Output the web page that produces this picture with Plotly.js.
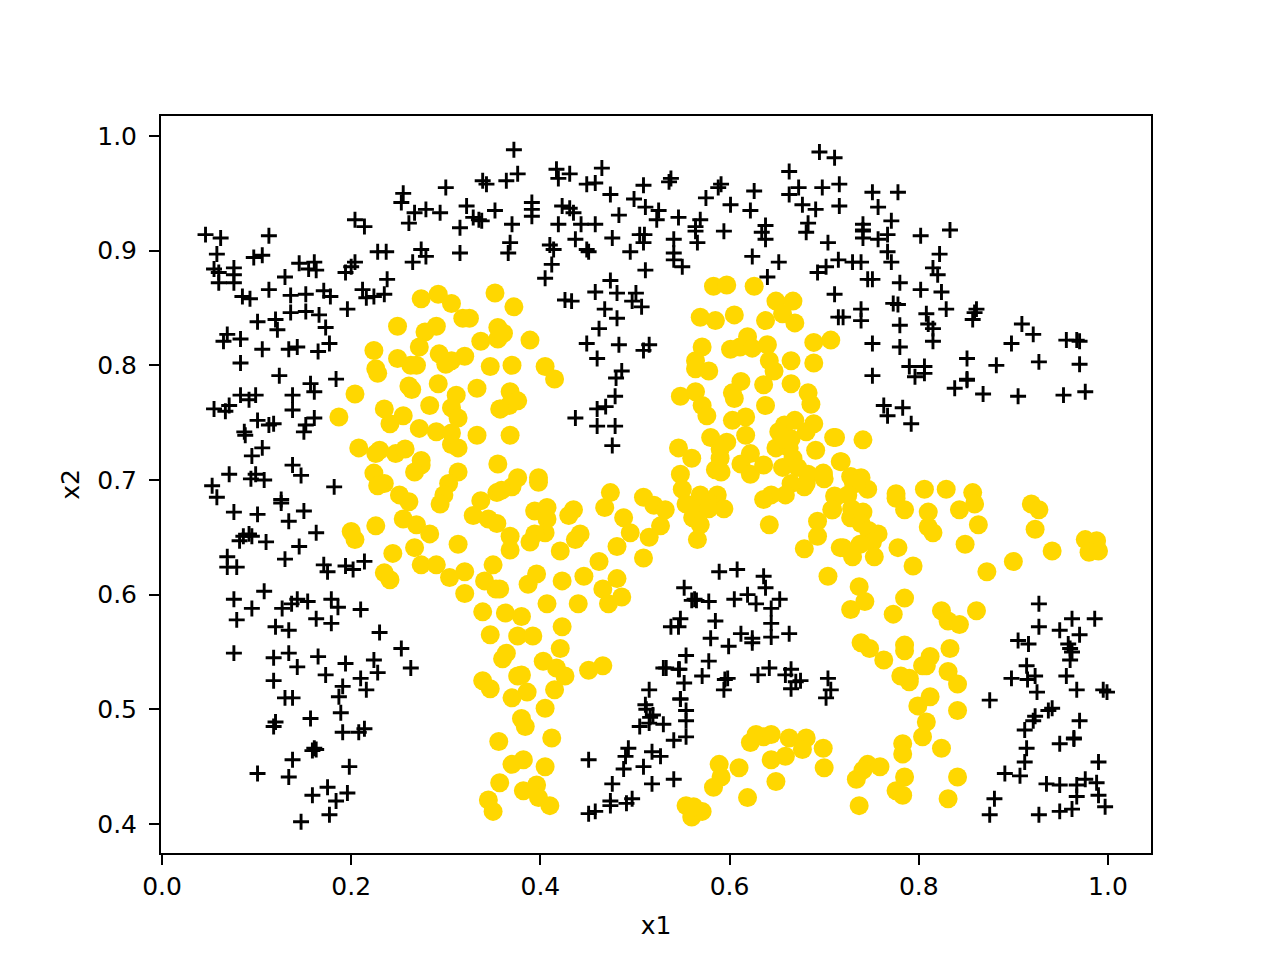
<!DOCTYPE html>
<html>
<head>
<meta charset="utf-8">
<script src="https://cdn.plot.ly/plotly-3.0.1.min.js"></script>
<style>html,body{margin:0;padding:0;background:#fff}#chart{width:1280px;height:960px}</style>
</head>
<body>
<div id="chart"></div>
<script>
const plusUpperLeft = [[.046,.914],[.062,.911],[.113,.913],[.058,.897],[.097,.894],[.106,.896],[.055,.884],[.060,.881],[.076,.885],[.076,.879],[.060,.872],[.076,.872],[.085,.860],[.093,.858],[.113,.866],[.130,.877],[.145,.889],[.155,.884],[.161,.890],[.163,.883],[.136,.861],[.152,.862],[.171,.865],[.178,.860],[.196,.849],[.136,.846],[.152,.847],[.166,.844],[.101,.838],[.120,.840],[.122,.831],[.173,.833],[.069,.827],[.065,.821],[.083,.823],[.106,.814],[.134,.814],[.143,.816],[.165,.812],[.177,.819],[.083,.802],[.124,.791],[.184,.788],
[.204,.927],[.214,.921],[.255,.950],[.253,.942],[.300,.955],[.339,.961],[.343,.958],[.267,.933],[.279,.936],[.294,.933],[.261,.924],[.322,.939],[.329,.929],[.335,.927],[.338,.926],[.352,.935],[.315,.920],[.274,.901],[.279,.895],[.265,.890],[.315,.898],[.228,.899],[.237,.899],[.204,.890],[.200,.886],[.194,.881],[.238,.875],[.212,.866],[.216,.859],[.224,.860],[.235,.862]];
const plusUpperMiddle = [[.372,.988],[.376,.967],[.364,.961],[.417,.971],[.419,.963],[.431,.967],[.465,.972],[.449,.958],[.458,.959],[.474,.949],[.509,.957],[.499,.945],[.538,.963],[.536,.960],[.591,.958],[.588,.955],[.575,.946],[.626,.952],[.601,.940],[.622,.935],[.511,.938],[.525,.935],[.523,.927],[.546,.929],[.483,.931],[.391,.942],[.391,.936],[.391,.930],[.423,.939],[.431,.937],[.435,.933],[.419,.923],[.443,.923],[.458,.923],[.370,.923],[.569,.927],[.564,.921],[.564,.917],[.594,.917],[.566,.907],[.437,.910],[.476,.911],[.505,.914],[.510,.914],[.509,.907],[.368,.907],[.366,.898],[.410,.905],[.414,.901],[.449,.901],[.451,.899],[.495,.899],[.541,.910],[.541,.898],[.541,.892],[.550,.886],[.412,.888],[.405,.876],[.511,.883],[.474,.874],[.458,.864],[.481,.863],[.501,.863],[.497,.856],[.507,.851],[.426,.857],[.433,.856],[.468,.849],[.481,.841],[.462,.832],[.449,.819],[.483,.818],[.515,.818],[.509,.813],[.460,.806],[.486,.795],[.480,.789],
[.695,.986],[.711,.981],[.663,.969],[.673,.955],[.663,.949],[.698,.955],[.716,.958],[.677,.940],[.691,.936],[.716,.939],[.683,.924],[.681,.916],[.704,.907],[.638,.922],[.634,.916],[.638,.910],[.624,.895],[.652,.890],[.640,.877],[.715,.892],[.702,.886],[.693,.881],[.711,.862],[.715,.842]];
const plusUpperRight = [[.751,.951],[.778,.951],[.757,.938],[.771,.926],[.741,.923],[.741,.918],[.741,.917],[.741,.911],[.767,.914],[.757,.910],[.802,.913],[.833,.918],[.767,.899],[.822,.897],[.730,.890],[.739,.890],[.771,.890],[.815,.885],[.820,.879],[.746,.875],[.751,.875],[.780,.872],[.802,.866],[.824,.864],[.773,.854],[.778,.853],[.739,.849],[.739,.839],[.720,.842],[.780,.835],[.808,.845],[.829,.849],[.810,.836],[.815,.832],[.815,.821],[.751,.819],[.780,.816],[.861,.849],[.859,.846],[.857,.840],[.909,.836],[.921,.827],[.898,.819],[.956,.822],[.967,.822],[.970,.821],[.851,.806],[.882,.800],[.927,.803],[.970,.801],[.790,.799],[.806,.799],[.796,.790],[.806,.793],[.751,.791],[.851,.788],[.851,.787],[.838,.780],[.868,.775],[.905,.773],[.953,.774],[.976,.777],[.763,.765],[.783,.763],[.767,.756],[.792,.749]];
const plusLeftMiddle = [[.157,.784],[.161,.777],[.055,.762],[.071,.765],[.067,.760],[.083,.774],[.092,.770],[.099,.774],[.138,.774],[.138,.761],[.101,.752],[.113,.748],[.118,.749],[.161,.754],[.152,.748],[.150,.742],[.087,.742],[.088,.739],[.106,.728],[.095,.721],[.138,.713],[.147,.704],[.071,.705],[.099,.705],[.094,.701],[.108,.700],[.053,.695],[.058,.685],[.182,.694],[.126,.683],[.126,.680],[.076,.672],[.101,.670],[.150,.673],[.134,.664],[.163,.654],[.092,.653],[.095,.651],[.086,.651],[.082,.647],[.110,.646],[.145,.642],[.069,.633],[.069,.624],[.079,.624],[.130,.631],[.171,.626],[.175,.620],[.194,.625],[.202,.622],[.214,.629],[.108,.603],[.076,.596],[.143,.596],[.137,.592],[.154,.594],[.127,.588],[.095,.588],[.179,.596],[.186,.589],[.210,.587]];
const plusLowerLeft = [[.079,.578],[.163,.579],[.179,.575],[.120,.572],[.134,.569],[.230,.567],[.076,.549],[.118,.545],[.134,.549],[.165,.546],[.143,.537],[.194,.540],[.224,.543],[.228,.532],[.253,.553],[.263,.536],[.173,.530],[.210,.527],[.118,.525],[.191,.520],[.216,.517],[.187,.511],[.130,.510],[.138,.510],[.189,.497],[.157,.492],[.120,.489],[.118,.485],[.191,.480],[.208,.480],[.214,.483],[.161,.466],[.163,.465],[.159,.464],[.138,.456],[.198,.450],[.101,.444],[.134,.441],[.175,.432],[.159,.425],[.196,.427],[.184,.420],[.177,.408],[.147,.402]];
const plusCenter = [[.479,.773],[.469,.764],[.460,.762],[.437,.754],[.460,.747],[.479,.747],[.476,.730],[.589,.620],[.608,.622],[.636,.616],[.638,.606],[.552,.606],[.563,.596],[.560,.595],[.565,.595],[.578,.594],[.605,.596],[.619,.600],[.628,.592],[.653,.596],[.644,.588],[.644,.575],[.644,.563],[.663,.566],[.612,.566],[.624,.562],[.624,.558],[.580,.562],[.599,.555],[.585,.577],[.548,.579],[.538,.572],[.546,.572],[.554,.547],[.578,.542],[.571,.529],[.530,.536],[.533,.536],[.546,.535],[.547,.535],[.552,.523],[.598,.527],[.595,.526],[.594,.517],[.515,.517],[.548,.509],[.548,.509],[.511,.504],[.512,.500],[.519,.495],[.516,.493],[.554,.499],[.554,.490],[.554,.476],[.541,.473],[.530,.487],[.515,.488],[.505,.485],[.630,.530],[.642,.536],[.659,.530],[.665,.535],[.670,.524],[.675,.525],[.665,.518],[.704,.527],[.707,.517],[.702,.510],[.493,.466],[.490,.459],[.451,.456],[.518,.463],[.527,.459],[.509,.450],[.488,.448],[.476,.435],[.518,.435],[.541,.439],[.497,.422],[.491,.418],[.474,.420],[.474,.416],[.458,.411],[.451,.409]];
const plusLowerRight = [[.927,.592],[.962,.579],[.986,.579],[.927,.572],[.949,.569],[.970,.565],[.905,.560],[.916,.557],[.958,.557],[.960,.553],[.962,.550],[.960,.543],[.914,.538],[.923,.529],[.915,.526],[.898,.527],[.956,.529],[.925,.515],[.967,.517],[.995,.517],[.999,.515],[.875,.508],[.941,.501],[.937,.499],[.923,.494],[.921,.490],[.912,.482],[.970,.490],[.949,.470],[.964,.475],[.964,.474],[.914,.466],[.912,.454],[.990,.454],[.891,.444],[.907,.442],[.935,.435],[.949,.434],[.967,.434],[.976,.439],[.988,.436],[.967,.424],[.990,.425],[.880,.422],[.875,.408],[.927,.408],[.949,.411],[.962,.413],[.997,.415]];

const dotUpperLeft = [[.274,.858],[.292,.862],[.306,.854],[.318,.841],[.325,.841],[.352,.863],[.249,.834],[.278,.829],[.290,.834],[.355,.833],[.337,.821],[.272,.816],[.355,.823],[.224,.813],[.249,.806],[.263,.800],[.269,.800],[.293,.810],[.300,.801],[.306,.804],[.320,.808],[.347,.799],[.226,.797],[.228,.793],[.372,.851],[.361,.828],[.389,.822],[.370,.800],[.405,.799],[.415,.788]];
const dotLeftMiddle = [[.204,.775],[.261,.782],[.264,.779],[.292,.784],[.333,.780],[.311,.774],[.283,.765],[.306,.763],[.313,.754],[.358,.762],[.187,.755],[.235,.762],[.255,.756],[.241,.749],[.272,.745],[.290,.742],[.306,.741],[.333,.739],[.306,.731],[.313,.728],[.208,.728],[.230,.726],[.226,.723],[.247,.723],[.257,.727],[.274,.717],[.274,.713],[.267,.707],[.355,.714],[.224,.706],[.313,.707],[.235,.697],[.228,.695],[.303,.697],[.298,.687],[.294,.679],[.251,.687],[.261,.681],[.354,.689],[.337,.682],[.329,.669],[.345,.666],[.354,.662],[.255,.666],[.269,.661],[.283,.653],[.200,.655],[.204,.648],[.226,.660],[.267,.641],[.313,.644],[.244,.636],[.274,.626],[.290,.626],[.304,.615],[.320,.620],[.350,.626],[.235,.619],[.241,.613],[.341,.612],[.353,.605],[.320,.601]];
const dotLeftCenter = [[.368,.777],[.376,.769],[.367,.765],[.357,.762],[.368,.739],[.398,.702],[.398,.698],[.376,.702],[.370,.694],[.359,.691],[.474,.689],[.468,.676],[.509,.685],[.520,.678],[.532,.674],[.488,.667],[.527,.660],[.495,.654],[.515,.650],[.481,.642],[.509,.632],[.435,.674],[.430,.669],[.394,.673],[.407,.676],[.407,.666],[.405,.654],[.394,.653],[.389,.646],[.368,.651],[.368,.639],[.442,.653],[.437,.648],[.421,.638],[.462,.629],[.396,.618],[.387,.609],[.423,.612],[.446,.616],[.481,.614],[.466,.605],[.486,.598],[.472,.592],[.407,.592],[.440,.592],[.357,.605]];
const dotCenterTop = [[.583,.869],[.597,.870],[.626,.869],[.649,.856],[.667,.856],[.656,.845],[.569,.842],[.585,.839],[.605,.844],[.638,.839],[.669,.837],[.571,.816],[.601,.814],[.611,.816],[.619,.825],[.624,.815],[.640,.818],[.689,.820],[.707,.822],[.564,.804],[.564,.797],[.578,.795],[.642,.804],[.647,.795],[.665,.804],[.689,.802],[.612,.786],[.636,.783],[.665,.784]];
const dotCenter = [[.548,.773],[.564,.777],[.571,.765],[.576,.756],[.603,.776],[.605,.771],[.638,.765],[.686,.766],[.683,.776],[.603,.752],[.617,.755],[.617,.739],[.580,.737],[.597,.733],[.546,.728],[.560,.719],[.590,.727],[.590,.719],[.585,.709],[.591,.707],[.622,.723],[.612,.714],[.622,.705],[.636,.713],[.656,.711],[.548,.705],[.691,.726],[.710,.737],[.717,.716],[.689,.749],[.681,.742],[.669,.752],[.658,.748],[.652,.742],[.649,.728],[.663,.728],[.665,.736],[.657,.736],[.667,.719],[.672,.711],[.679,.694],[.683,.705],[.699,.705],[.681,.697],[.665,.697],[.659,.687],[.644,.687],[.636,.683],[.711,.686],[.708,.674],[.693,.664],[.693,.651],[.642,.661],[.679,.640],[.717,.641],[.704,.616],[.550,.692],[.569,.687],[.587,.687],[.554,.679],[.578,.680],[.594,.675],[.561,.667],[.569,.661],[.566,.648],[.567,.675],[.578,.675]];
const dotRight = [[.712,.737],[.741,.735],[.718,.716],[.699,.706],[.700,.701],[.728,.703],[.739,.702],[.746,.692],[.731,.697],[.734,.697],[.725,.687],[.712,.685],[.709,.674],[.728,.667],[.729,.675],[.741,.672],[.739,.662],[.747,.656],[.757,.653],[.751,.646],[.738,.644],[.720,.641],[.730,.633],[.753,.633],[.778,.641],[.794,.625],[.737,.607],[.743,.594],[.728,.587],[.785,.597],[.773,.583],[.776,.688],[.776,.684],[.785,.674],[.806,.692],[.829,.692],[.857,.689],[.859,.679],[.843,.674],[.810,.672],[.810,.659],[.815,.654],[.863,.661],[.849,.644],[.919,.679],[.927,.674],[.923,.657],[.941,.638],[.900,.629],[.872,.620],[.976,.648],[.988,.647],[.980,.637],[.990,.638]];
const dotLowerRight = [[.824,.586],[.831,.577],[.843,.574],[.861,.586],[.739,.558],[.748,.553],[.763,.543],[.785,.556],[.785,.551],[.833,.553],[.812,.546],[.804,.538],[.808,.538],[.781,.529],[.790,.527],[.790,.524],[.831,.533],[.841,.522],[.812,.511],[.799,.503],[.841,.499],[.808,.489],[.804,.476],[.783,.470],[.783,.461],[.824,.466],[.699,.466],[.700,.449],[.746,.452],[.759,.450],[.741,.447],[.734,.439],[.785,.441],[.831,.422],[.841,.441],[.776,.429],[.783,.425],[.737,.416]];
const dotLowerCenter = [[.363,.584],[.380,.581],[.423,.572],[.376,.564],[.392,.564],[.421,.553],[.364,.549],[.360,.544],[.403,.542],[.417,.536],[.426,.529],[.451,.534],[.466,.538],[.380,.530],[.376,.529],[.415,.517],[.386,.515],[.370,.510],[.405,.501],[.380,.492],[.384,.485],[.412,.475],[.356,.472],[.370,.452],[.382,.456],[.405,.450],[.357,.436],[.382,.429],[.396,.434],[.398,.423],[.410,.416],[.339,.585],[.347,.565],[.339,.525],[.347,.518],[.345,.421],[.350,.411]];
const dotBottomArc = [[.622,.471],[.628,.478],[.636,.476],[.644,.478],[.663,.475],[.681,.475],[.677,.465],[.659,.459],[.644,.456],[.610,.449],[.589,.452],[.591,.441],[.583,.432],[.619,.423],[.649,.437],[.554,.416],[.560,.406],[.571,.411],[.562,.415]];
const xTicks = [0,0.2,0.4,0.6,0.8,1.0];
const yTicks = [0.4,0.5,0.6,0.7,0.8,0.9,1.0];

const plusGroups = [plusUpperLeft,plusUpperMiddle,plusUpperRight,plusLeftMiddle,plusLowerLeft,plusCenter,plusLowerRight];
const dotGroups = [dotUpperLeft,dotLeftMiddle,dotLeftCenter,dotCenterTop,dotCenter,dotRight,dotLowerRight,dotLowerCenter,dotBottomArc];
const plus = plusGroups.flat();
const dots = dotGroups.flat();

const axisBase = {
  showgrid:false, zeroline:false, showline:true, mirror:true,
  linecolor:'#000', linewidth:2, ticks:'outside', ticklen:10, tickwidth:2, tickcolor:'#000',
  tickfont:{family:'DejaVu Sans',size:25,color:'#000'}, tickformat:'.1f', automargin:false
};
Plotly.newPlot('chart',[
  {type:'scatter',mode:'markers',x:plus.map(p=>p[0]),y:plus.map(p=>p[1]),
   marker:{symbol:'cross-thin',size:11.4,color:'#000',line:{width:2.9,color:'#000'}},showlegend:false,hoverinfo:'skip'},
  {type:'scatter',mode:'markers',x:dots.map(p=>p[0]),y:dots.map(p=>p[1]),
   marker:{symbol:'circle',size:19,color:'#FFD700',line:{width:0}},showlegend:false,hoverinfo:'skip'}
],{
  width:1280,height:960,margin:{l:161,r:129,t:116,b:107,pad:0},
  paper_bgcolor:'#fff',plot_bgcolor:'#fff',showlegend:false,
  xaxis:Object.assign({},axisBase,{range:[-0.00106,1.0455],tickvals:xTicks,
    title:{text:'x1',font:{family:'DejaVu Sans',size:25,color:'#000'},standoff:16}}),
  yaxis:Object.assign({},axisBase,{range:[0.3747,1.01744],tickvals:yTicks,ticklabelstandoff:7,
    title:{text:'x2',font:{family:'DejaVu Sans',size:25,color:'#000'},standoff:10}})
},{staticPlot:true,displayModeBar:false});
</script>
</body>
</html>
